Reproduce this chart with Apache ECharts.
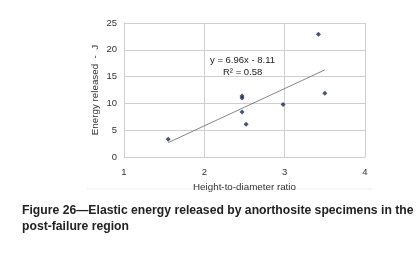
<!DOCTYPE html>
<html>
<head>
<meta charset="utf-8">
<script src="https://cdn.jsdelivr.net/npm/echarts@6/dist/echarts.min.js"></script>
<style>
  html, body { margin: 0; padding: 0; background: #fff; }
  #chart { width: 419px; height: 262px; }
</style>
</head>
<body>
<div id="chart"></div>
<script>
// measured specimens: height-to-diameter ratio vs energy released (J)
var ratio  = [1.55, 2.47, 2.47, 2.47, 2.52, 2.98, 3.42, 3.50];
var energy = [3.3, 11.4, 11.0, 8.4, 6.1, 9.8, 22.9, 11.9];
var xTicks = [1, 2, 3, 4];
var yTicks = [0, 5, 10, 15, 20, 25];
var slope = 6.96, intercept = -8.11, rSquared = 0.58;

var points = ratio.map(function (r, i) { return [r, energy[i]]; });
var xMin = Math.min.apply(null, ratio), xMax = Math.max.apply(null, ratio);
var trend = [[xMin, slope * xMin + intercept], [xMax, slope * xMax + intercept]];

var chart = echarts.init(document.getElementById('chart'));
var gridCol = '#cfcfcf';
var lbl = { color: '#333', fontFamily: 'Liberation Sans', fontSize: 9.5 };
var nameStyle = { color: '#333', fontFamily: 'Liberation Sans', fontSize: 9.8 };

chart.setOption({
    animation: false,
    grid: { left: 124, right: 54, top: 23, bottom: 105 },
    xAxis: {
        type: 'value', min: xTicks[0], max: xTicks[xTicks.length - 1], interval: 1,
        name: 'Height-to-diameter ratio', nameLocation: 'middle', nameGap: 18,
        nameTextStyle: nameStyle,
        axisLine: { lineStyle: { color: gridCol } },
        axisTick: { show: false },
        axisLabel: Object.assign({ margin: 10 }, lbl),
        splitLine: { lineStyle: { color: gridCol } }
    },
    yAxis: {
        type: 'value', min: yTicks[0], max: yTicks[yTicks.length - 1], interval: 5,
        name: 'Energy released  -  J', nameLocation: 'middle', nameGap: 24,
        nameMoveOverlap: false,
        nameTextStyle: nameStyle,
        axisLine: { show: true, lineStyle: { color: gridCol } },
        axisTick: { show: false },
        axisLabel: Object.assign({ margin: 7 }, lbl),
        splitLine: { lineStyle: { color: gridCol } }
    },
    series: [
        {
            type: 'line', data: trend, symbol: 'none', silent: true,
            lineStyle: { color: '#666', width: 0.8 }, z: 2
        },
        {
            type: 'scatter', data: points, symbol: 'diamond', symbolSize: 5,
            itemStyle: { color: '#1b2a4a' }, z: 3
        }
    ],
    graphic: [
        {
            type: 'text', left: 210, top: 55,
            style: { text: 'y = 6.96x - 8.11', fill: '#222', font: '9.5px "Liberation Sans"' }
        },
        {
            type: 'text', left: 223, top: 67,
            style: { text: 'R\u00b2 = ' + rSquared.toFixed(2), fill: '#222', font: '9.5px "Liberation Sans"' }
        },
        {
            type: 'line', shape: { x1: 87, y1: 189, x2: 372, y2: 189 },
            style: { stroke: '#eeeeee', lineWidth: 1 }
        },
        {
            type: 'text', left: 22, top: 205,
            style: { text: 'Figure 26\u2014Elastic energy released by anorthosite specimens in the',
                     fill: '#222', font: 'bold 12.2px "Liberation Sans"' }
        },
        {
            type: 'text', left: 22, top: 221,
            style: { text: 'post-failure region', fill: '#222', font: 'bold 12.2px "Liberation Sans"' }
        }
    ]
});
</script>
</body>
</html>
